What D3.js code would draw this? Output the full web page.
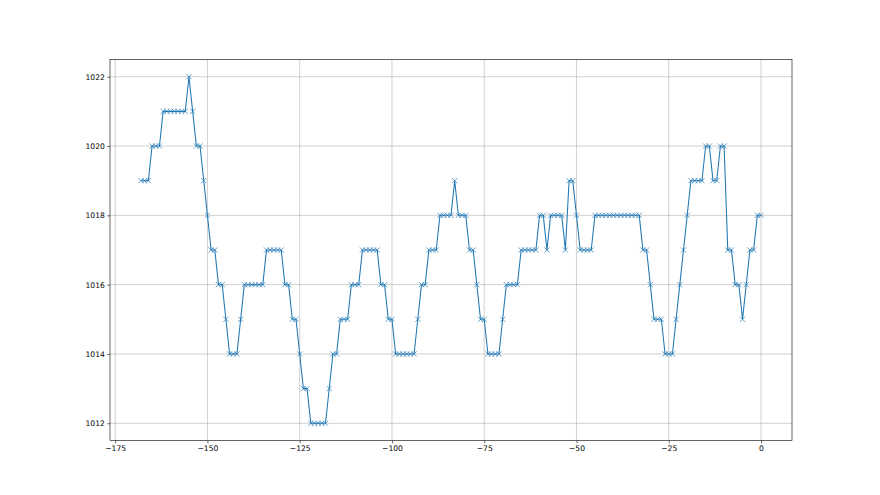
<!DOCTYPE html>
<html>
<head>
<meta charset="utf-8">
<script src="https://cdn.jsdelivr.net/npm/d3@7"></script>
<style>
  html, body { margin: 0; padding: 0; background: #ffffff; }
  svg { display: block; }
  text { font-family: "DejaVu Sans", sans-serif; }
</style>
</head>
<body>
<svg id="chart" width="880" height="495"></svg>
<script>
// Hours relative to now (one reading per hour)
const hours = d3.range(-168, 1);
// Pressure readings (hPa), one per hour from -168 to 0
const pressure = [
  1019, 1019, 1019, 1020, 1020, 1020,
  1021, 1021, 1021, 1021, 1021, 1021, 1021,
  1022, 1021, 1020, 1020, 1019, 1018, 1017, 1017, 1016, 1016, 1015,
  1014, 1014, 1014, 1015,
  1016, 1016, 1016, 1016, 1016, 1016,
  1017, 1017, 1017, 1017, 1017,
  1016, 1016, 1015, 1015, 1014, 1013, 1013,
  1012, 1012, 1012, 1012, 1012,
  1013, 1014, 1014, 1015, 1015, 1015, 1016, 1016, 1016,
  1017, 1017, 1017, 1017, 1017,
  1016, 1016, 1015, 1015,
  1014, 1014, 1014, 1014, 1014, 1014,
  1015, 1016, 1016, 1017, 1017, 1017,
  1018, 1018, 1018, 1018,
  1019, 1018, 1018, 1018, 1017, 1017, 1016, 1015, 1015,
  1014, 1014, 1014, 1014,
  1015, 1016, 1016, 1016, 1016,
  1017, 1017, 1017, 1017, 1017,
  1018, 1018, 1017, 1018, 1018, 1018, 1018, 1017, 1019, 1019, 1018,
  1017, 1017, 1017, 1017,
  1018, 1018, 1018, 1018, 1018, 1018, 1018, 1018, 1018, 1018, 1018, 1018, 1018,
  1017, 1017, 1016, 1015, 1015, 1015, 1014, 1014, 1014,
  1015, 1016, 1017, 1018,
  1019, 1019, 1019, 1019, 1020, 1020, 1019, 1019, 1020, 1020,
  1017, 1017, 1016, 1016, 1015, 1016, 1017, 1017, 1018, 1018
];
const xTicks = [-175, -150, -125, -100, -75, -50, -25, 0];
const yTicks = [1012, 1014, 1016, 1018, 1020, 1022];

const svg = d3.select("#chart");
const L = 110, R = 792, T = 59.4, B = 440.6;
const color = "#1f77b4";

const xMin = d3.min(hours), xMax = d3.max(hours);
const xPad = (xMax - xMin) * 0.05;
const yMin = d3.min(pressure), yMax = d3.max(pressure);
const yPad = (yMax - yMin) * 0.05;

const x = d3.scaleLinear().domain([xMin - xPad, xMax + xPad]).range([L, R]);
const y = d3.scaleLinear().domain([yMin - yPad, yMax + yPad]).range([B, T]);

const fmt = d => String(d).replace("-", "\u2212");

// grid
const grid = svg.append("g");
grid.selectAll(".gx").data(xTicks).enter().append("line")
  .attr("x1", d => x(d)).attr("x2", d => x(d))
  .attr("y1", T).attr("y2", B)
  .attr("stroke", "#b0b0b0").attr("stroke-width", 0.6);
grid.selectAll(".gy").data(yTicks).enter().append("line")
  .attr("x1", L).attr("x2", R)
  .attr("y1", d => y(d)).attr("y2", d => y(d))
  .attr("stroke", "#b0b0b0").attr("stroke-width", 0.6);

// axes
const xAxis = d3.axisBottom(x).tickValues(xTicks).tickFormat(fmt).tickSize(2.7).tickPadding(2.5);
const yAxis = d3.axisLeft(y).tickValues(yTicks).tickFormat(fmt).tickSize(2.7).tickPadding(2.5);

const gx = svg.append("g").attr("transform", `translate(0,${B})`).call(xAxis);
const gy = svg.append("g").attr("transform", `translate(${L},0)`).call(yAxis);
[gx, gy].forEach(g => {
  g.select(".domain").remove();
  g.selectAll(".tick line").attr("stroke", "#000").attr("stroke-width", 0.6);
  g.selectAll(".tick text").attr("fill", "#000").style("font-size", "7.6px")
    .style("font-family", "'DejaVu Sans', sans-serif");
});

// line
const pts = hours.map((h, i) => [h, pressure[i]]);
const line = d3.line().x(d => x(d[0])).y(d => y(d[1]));
svg.append("path").datum(pts)
  .attr("d", line)
  .attr("fill", "none")
  .attr("stroke", color)
  .attr("stroke-width", 1.05)
  .attr("stroke-linejoin", "round");

// x markers
const m = 2.6;
svg.append("g").selectAll("path.mk").data(pts).enter().append("path")
  .attr("d", d => {
    const cx = x(d[0]), cy = y(d[1]);
    return `M${cx - m},${cy - m}L${cx + m},${cy + m}M${cx - m},${cy + m}L${cx + m},${cy - m}`;
  })
  .attr("stroke", color)
  .attr("stroke-width", 0.8)
  .attr("stroke-opacity", 0.85)
  .attr("fill", "none");

// spines
svg.append("rect")
  .attr("x", L).attr("y", T).attr("width", R - L).attr("height", B - T)
  .attr("fill", "none").attr("stroke", "#000").attr("stroke-width", 0.6);
</script>
</body>
</html>
